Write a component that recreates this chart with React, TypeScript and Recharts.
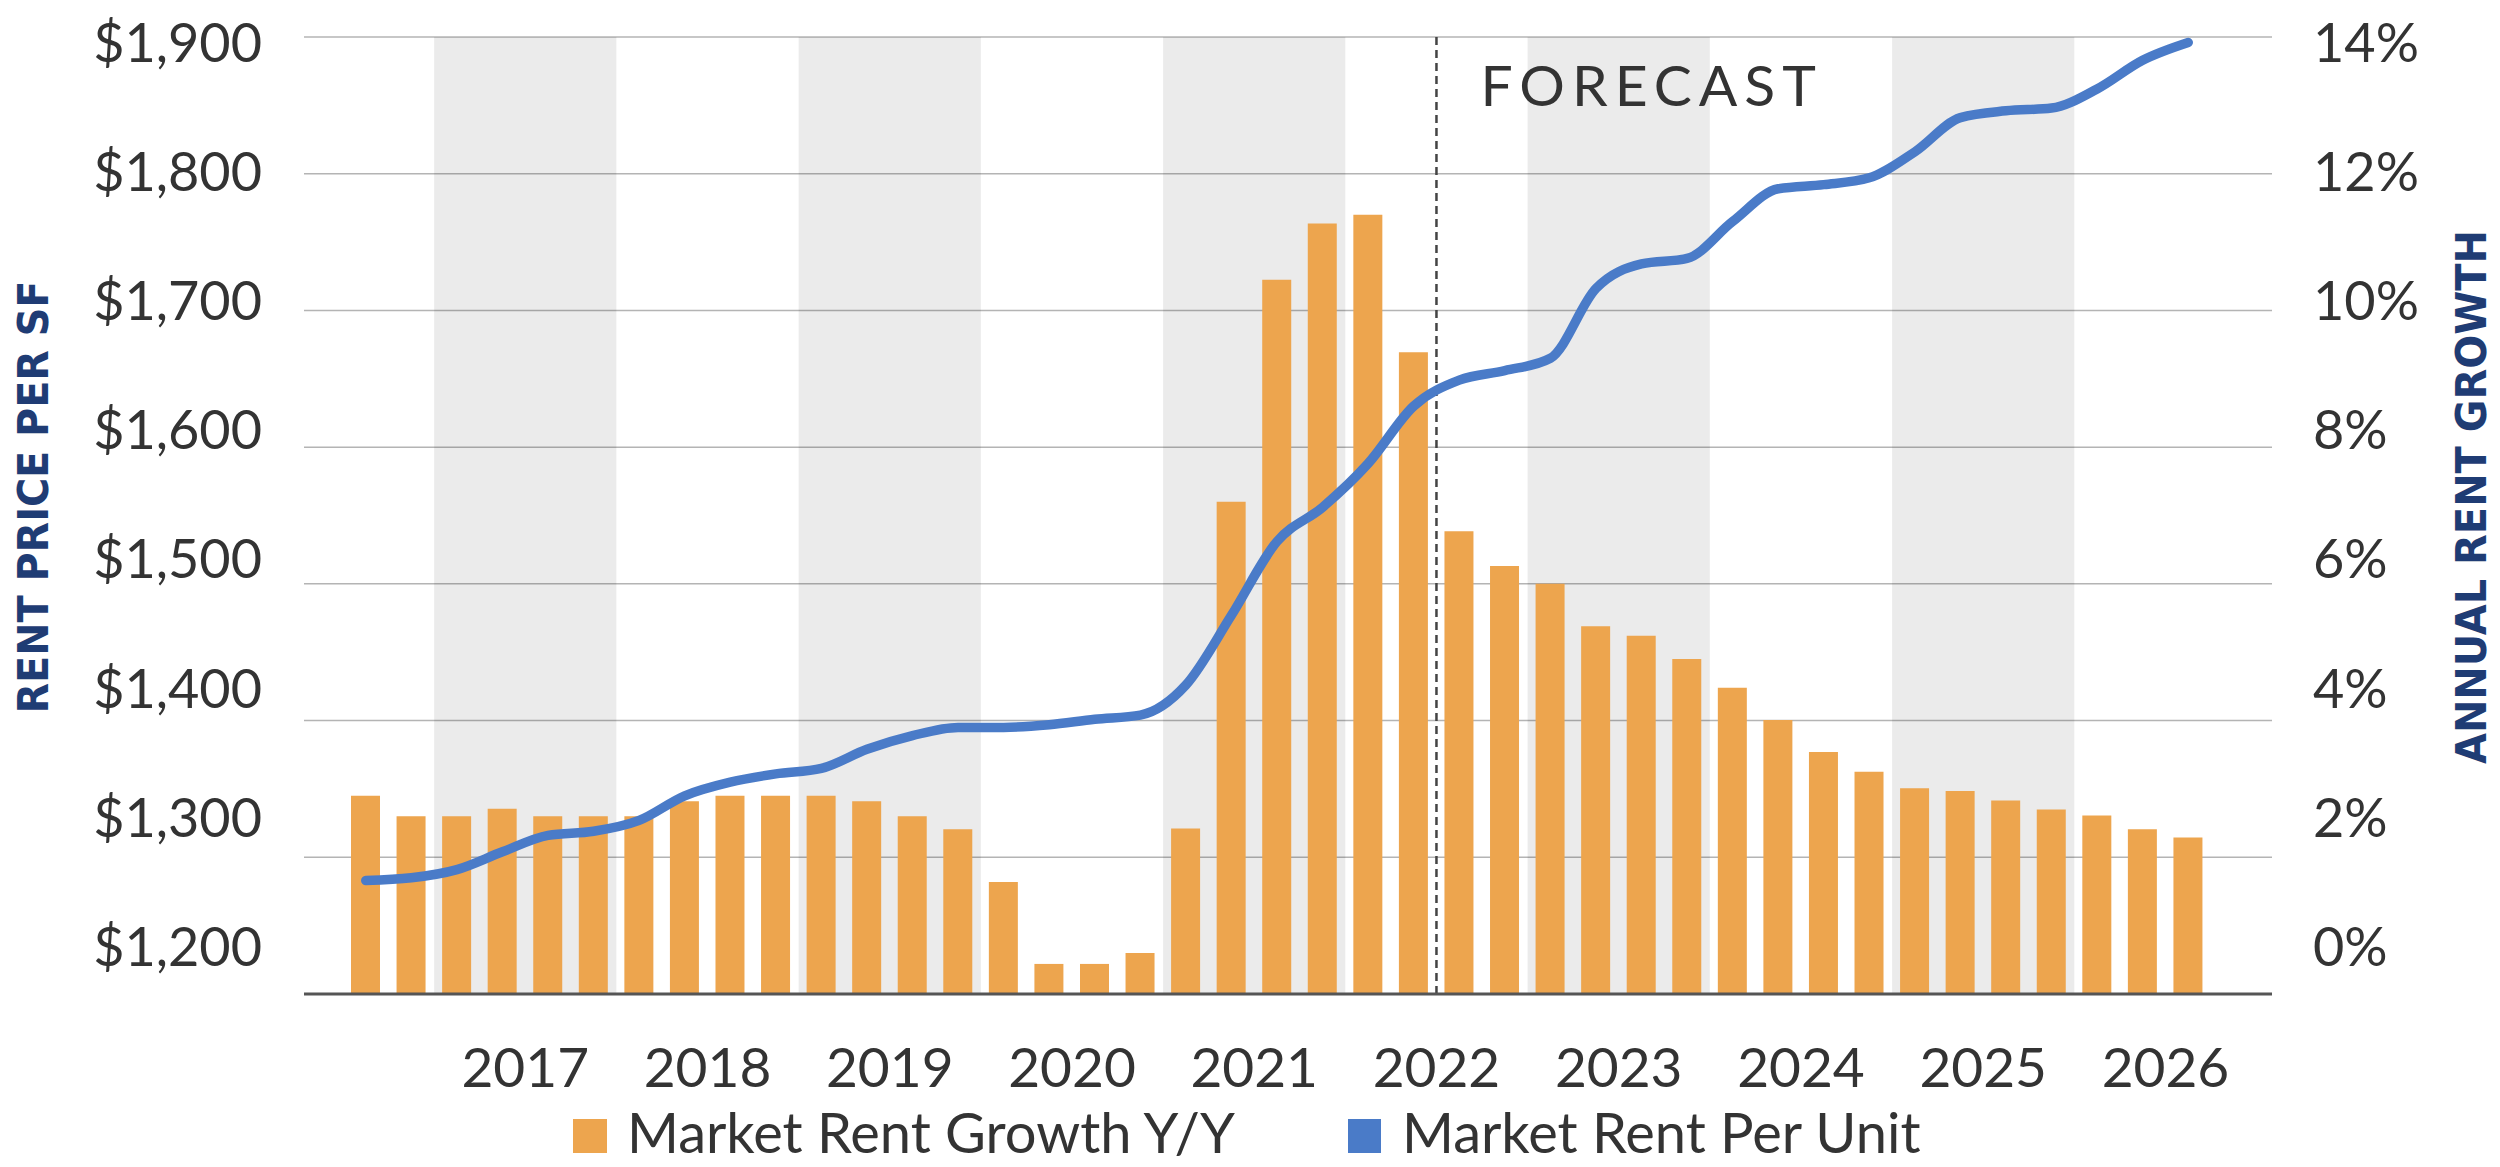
import React from 'react'
import {
  ComposedChart,
  Bar,
  Line,
  XAxis,
  YAxis,
  CartesianGrid,
  ReferenceArea,
  ReferenceLine,
} from 'recharts'

// quarters, 2016 Q3 .. 2026 Q3
const QUARTERS = [
  '2016 Q3', '2016 Q4',
  '2017 Q1', '2017 Q2', '2017 Q3', '2017 Q4',
  '2018 Q1', '2018 Q2', '2018 Q3', '2018 Q4',
  '2019 Q1', '2019 Q2', '2019 Q3', '2019 Q4',
  '2020 Q1', '2020 Q2', '2020 Q3', '2020 Q4',
  '2021 Q1', '2021 Q2', '2021 Q3', '2021 Q4',
  '2022 Q1', '2022 Q2', '2022 Q3', '2022 Q4',
  '2023 Q1', '2023 Q2', '2023 Q3', '2023 Q4',
  '2024 Q1', '2024 Q2', '2024 Q3', '2024 Q4',
  '2025 Q1', '2025 Q2', '2025 Q3', '2025 Q4',
  '2026 Q1', '2026 Q2', '2026 Q3',
]

// Market Rent Growth Y/Y (%)
const RENT_GROWTH = [
  2.9, 2.6,
  2.6, 2.71, 2.6, 2.6,
  2.6, 2.82, 2.9, 2.9,
  2.9, 2.82, 2.6, 2.41,
  1.64, 0.44, 0.44, 0.6,
  2.42, 7.2, 10.45, 11.27,
  11.4, 9.39, 6.77, 6.26,
  6.0, 5.38, 5.24, 4.9,
  4.48, 4.01, 3.54, 3.25,
  3.01, 2.97, 2.83, 2.7,
  2.61, 2.41, 2.29,
]

// Market Rent Per Unit ($)
const RENT_PER_UNIT = [
  1283, 1285,
  1291, 1304, 1316, 1319,
  1327, 1345, 1355, 1361,
  1365, 1379, 1389, 1395,
  1395, 1397, 1401, 1404,
  1426, 1477, 1531, 1556,
  1588, 1630, 1649, 1656,
  1665, 1716, 1734, 1738,
  1765, 1789, 1792, 1797,
  1816, 1841, 1846, 1848,
  1862, 1883, 1896,
]

const YEAR_TICKS = [
  '2017 Q2', '2018 Q2', '2019 Q2', '2020 Q2', '2021 Q2',
  '2022 Q2', '2023 Q2', '2024 Q2', '2025 Q2', '2026 Q2',
]
const SHADED_YEARS = ['2017', '2019', '2021', '2023', '2025']
const FORECAST_START = '2022 Q3'

const LEFT_TICKS = [1200, 1300, 1400, 1500, 1600, 1700, 1800, 1900]
const RIGHT_TICKS = [0, 2, 4, 6, 8, 10, 12, 14]

const data = QUARTERS.map((q, i) => ({
  q,
  growth: RENT_GROWTH[i],
  rent: RENT_PER_UNIT[i],
}))

const ORANGE = '#EDA54E'
const BLUE = '#4A7BC8'
const NAVY = '#1F3C74'
const TEXT = '#333333'
const HALF_SLOT = 22.8
const PLOT_TOP = 37

const YearTick = (props: any) => {
  const { x, y, payload } = props
  return (
    <text
      x={x + HALF_SLOT}
      y={y + 91}
      textAnchor="middle"
      fill={TEXT}
      fontFamily="Lato, sans-serif"
      fontSize={55}
    >
      {String(payload.value).slice(0, 4)}
    </text>
  )
}

// the value labels in the original sit on a slightly tighter pitch than the gridlines
const ValueTick = (props: any) => {
  const { x, y, payload, textAnchor, format } = props
  const ly = PLOT_TOP + 5.5 + (y - PLOT_TOP) * 0.9444
  return (
    <text
      x={x}
      y={ly}
      dy="0.36em"
      textAnchor={textAnchor}
      fill={TEXT}
      fontFamily="Lato, sans-serif"
      fontSize={54}
    >
      {format(payload.value)}
    </text>
  )
}

const AxisTitle = (props: any) => {
  const { cx, text, length } = props
  return (
    <text
      x={cx}
      y={497}
      transform={`rotate(-90 ${cx} 497)`}
      textAnchor="middle"
      dominantBaseline="central"
      fill={NAVY}
      fontFamily="'Liberation Sans Narrow', 'DejaVu Sans Condensed', sans-serif"
      fontWeight="bold"
      fontSize={42}
      textLength={length}
      lengthAdjust="spacingAndGlyphs"
    >
      {text}
    </text>
  )
}

const ForecastLabel = (props: any) => {
  const { viewBox } = props
  if (!viewBox) return null
  return (
    <text
      x={viewBox.x + 44}
      y={viewBox.y + 69}
      fill={TEXT}
      fontFamily="Lato, sans-serif"
      fontSize={57}
      letterSpacing={7}
    >
      FORECAST
    </text>
  )
}

const fmtDollar = (v: number) => `$${v.toLocaleString('en-US')}`
const fmtPct = (v: number) => `${v}%`

export default function App() {
  return (
    <div style={{ position: 'absolute', left: 0, top: 0, width: 2500, height: 1167, background: '#fff' }}>
      <ComposedChart
        width={2500}
        height={1167}
        data={data}
        margin={{ top: PLOT_TOP, right: 0, bottom: 0, left: 0 }}
      >
        {SHADED_YEARS.map(y => (
          <ReferenceArea
            key={y}
            x1={`${y} Q1`}
            x2={`${y} Q4`}
            yAxisId="left"
            fill="#000"
            fillOpacity={0.078}
            stroke="none"
          />
        ))}
        <CartesianGrid yAxisId="left" vertical={false} stroke="#B4B4B4" strokeWidth={1.5} />
        <XAxis
          dataKey="q"
          height={173}
          padding={{ left: 39, right: 61 }}
          ticks={YEAR_TICKS}
          interval={0}
          tick={<YearTick />}
          tickLine={false}
          tickSize={0}
          axisLine={{ stroke: '#555', strokeWidth: 3 }}
        />
        <YAxis
          yAxisId="left"
          width={304}
          domain={[1200, 1900]}
          ticks={LEFT_TICKS}
          axisLine={false}
          tickLine={false}
          tickSize={0}
          tickMargin={42}
          tick={<ValueTick format={fmtDollar} />}
          label={<AxisTitle cx={33} text="RENT PRICE PER SF" length={433} />}
        />
        <YAxis
          yAxisId="right"
          orientation="right"
          width={228}
          domain={[0, 14]}
          ticks={RIGHT_TICKS}
          axisLine={false}
          tickLine={false}
          tickSize={0}
          tickMargin={41}
          tick={<ValueTick format={fmtPct} />}
          label={<AxisTitle cx={2471} text="ANNUAL RENT GROWTH" length={534} />}
        />
        <Bar
          yAxisId="right"
          dataKey="growth"
          name="Market Rent Growth Y/Y"
          fill={ORANGE}
          barSize={29}
          isAnimationActive={false}
        />
        <ReferenceLine
          x={FORECAST_START}
          position="start"
          yAxisId="left"
          stroke="#444"
          strokeWidth={2.5}
          strokeDasharray="8 5"
          label={<ForecastLabel />}
        />
        <Line
          yAxisId="left"
          dataKey="rent"
          name="Market Rent Per Unit"
          type="monotone"
          stroke={BLUE}
          strokeWidth={9.5}
          strokeLinecap="round"
          strokeLinejoin="round"
          dot={false}
          isAnimationActive={false}
        />
      </ComposedChart>
      <svg
        width={2500}
        height={1167}
        style={{ position: 'absolute', left: 0, top: 0, pointerEvents: 'none' }}
      >
        <rect x={573} y={1119} width={34} height={34} fill={ORANGE} />
        <text x={627} y={1153} fill={TEXT} fontFamily="Lato, sans-serif" fontSize={56}>
          Market Rent Growth Y/Y
        </text>
        <rect x={1348} y={1119} width={33} height={34} fill={BLUE} />
        <text x={1402} y={1153} fill={TEXT} fontFamily="Lato, sans-serif" fontSize={56}>
          Market Rent Per Unit
        </text>
      </svg>
    </div>
  )
}
